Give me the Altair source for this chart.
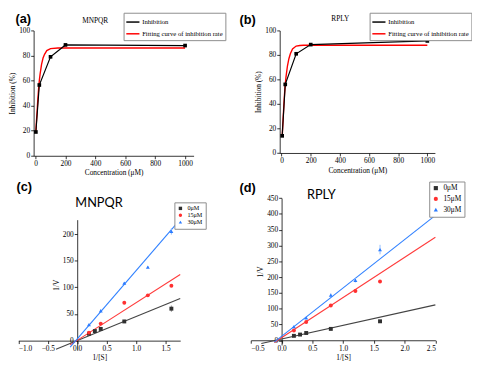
import altair as alt
import pandas as pd

# ---------------- data ----------------
# (a) MNPQR inhibition
a_conc = [2, 25, 100, 200, 1000]
a_inh = [19, 56.5, 79, 88.5, 88]
a_fit_conc = [2, 5, 10, 15, 20, 25, 30, 40, 50, 60, 75, 100, 150, 200, 1000]
a_fit_inh = [19, 26, 35, 45, 53, 60, 65, 73, 78, 81, 84, 85.6, 86, 86, 86]
# (b) RPLY inhibition
b_conc = [4, 25, 100, 200, 1000]
b_inh = [14, 56, 81, 88.5, 91.5]
b_fit_conc = [4, 10, 15, 20, 25, 30, 40, 50, 60, 75, 100, 125, 150, 200, 1000]
b_fit_inh = [13, 27, 38, 48, 56, 62, 71, 77, 81, 85, 87.3, 87.8, 88, 88, 88]

series_names = ["Inhibition", "Fitting curve of inhibition rate"]
groups = ["0μM", "15μM", "30μM"]

# (c) MNPQR Lineweaver-Burk
c_s_0 = [0.2, 0.3, 0.4, 0.8, 1.6]
c_v_0 = [13, 18, 22, 36, 60]
c_e_0 = [1, 1, 1, 3, 6]
c_s_15 = [0.2, 0.4, 0.8, 1.2, 1.6]
c_v_15 = [15, 32, 71, 85, 103]
c_e_15 = [1, 1.5, 1.5, 1.5, 2]
c_s_30 = [0.2, 0.4, 0.8, 1.2, 1.6]
c_v_30 = [30, 56, 108, 138, 205]
c_e_30 = [1.5, 2, 2, 2, 6]
c_fit_s_0 = [-0.36, 1.75]
c_fit_v_0 = [-16, 79]
c_fit_s_15 = [-0.12, 1.75]
c_fit_v_15 = [-8, 124]
c_fit_s_30 = [-0.12, 1.7]
c_fit_v_30 = [-12, 221]

# (d) RPLY Lineweaver-Burk
d_s_0 = [0.2, 0.3, 0.4, 0.8, 1.6]
d_v_0 = [14, 18, 23, 36, 60]
d_e_0 = [1, 1, 1, 2, 5]
d_s_15 = [0.2, 0.4, 0.8, 1.2, 1.6]
d_v_15 = [31, 58, 110, 156, 186]
d_e_15 = [2, 2, 2, 2, 3]
d_s_30 = [0.2, 0.4, 0.8, 1.2, 1.6]
d_v_30 = [43, 71, 143, 190, 287]
d_e_30 = [2, 3, 5, 7, 15]
d_fit_s_0 = [-0.33, 2.5]
d_fit_v_0 = [-10, 112]
d_fit_s_15 = [-0.12, 2.5]
d_fit_v_15 = [-7, 326]
d_fit_s_30 = [-0.12, 2.5]
d_fit_v_30 = [-6, 395]

conc_ticks = [0, 200, 400, 600, 800, 1000]
inh_ticks = [0, 20, 40, 60, 80, 100]
c_xticks = [-1.0, -0.5, 0.0, 0.5, 1.0, 1.5]
c_yticks = [0, 50, 100, 150, 200]
d_xticks = [-0.5, 0.0, 0.5, 1.0, 1.5, 2.0, 2.5]
d_yticks = [0, 50, 100, 150, 200, 250, 300, 350, 400, 450]

panel_tags = ["(a)", "(b)", "(c)", "(d)"]
panel_titles = ["MNPQR", "RPLY", "MNPQR", "RPLY"]

# ---------------- layout ----------------
TOTAL_W, TOTAL_H = 464, 361
SX = TOTAL_W / 480
SY = TOTAL_H / 378
CW, CH = TOTAL_W / 2, TOTAL_H / 2
SERIF = "Liberation Serif"
lb_colors = ["#303030", "#ff3030", "#2b7bff"]
lb_line_colors = ["#444444", "#ff3b3b", "#2f80ff"]
lb_err_colors = ["#9a9a9a", "#ff9a9a", "#8fbcff"]
lb_shapes = ["square", "circle", "triangle-up"]


def px(X, col):
    return X * SX - col * CW


def py(Y, row):
    return Y * SY - row * CH


def text_layer(txt, x, y, font, size, weight="normal"):
    return alt.Chart(pd.DataFrame({"t": [txt]})).mark_text(
        font=font, fontSize=size, fontWeight=weight, color="black",
        align="center", baseline="middle"
    ).encode(x=alt.value(x), y=alt.value(y), text="t:N")


def inhibition_panel(col, conc, inh, fit_conc, fit_inh, x_zero, x_ppu, x_dom,
                     y_zero, y_ppu, tag, tag_xy, title, title_xy, leg_xy):
    xr = [px(x_zero + d * x_ppu, col) for d in x_dom]
    yr = [py(y_zero + d * y_ppu, 0) for d in [0, 100]]
    xs = alt.Scale(domain=x_dom, range=xr, nice=False, zero=False)
    ys = alt.Scale(domain=[0, 100], range=yr, nice=False, zero=False)
    X = alt.X("c:Q", scale=xs, axis=alt.Axis(values=conc_ticks, title="Concentration (μM)",
                                              offset=yr[0] - CH, format="d"))
    Y = alt.Y("v:Q", scale=ys, axis=alt.Axis(values=inh_ticks, title="Inhibition (%)",
                                              offset=-xr[0], format="d"))
    color = alt.Color("s:N", scale=alt.Scale(domain=series_names, range=["black", "red"]),
                      legend=alt.Legend(orient="none", legendX=px(leg_xy[0], col),
                                        legendY=py(leg_xy[1], 0), title=None,
                                        symbolType="stroke", symbolSize=180,
                                        symbolStrokeWidth=1.5, labelFont=SERIF,
                                        labelFontSize=6.8, strokeColor="#8c8c8c",
                                        fillColor="white", padding=2, rowPadding=0,
                                        labelOffset=2))
    obs = pd.DataFrame({"c": conc, "v": inh, "s": series_names[0]})
    fit = pd.DataFrame({"c": fit_conc, "v": fit_inh, "s": series_names[1]})
    fit_line = alt.Chart(fit).mark_line(strokeWidth=1.4).encode(x=X, y=Y, color=color)
    obs_line = alt.Chart(obs).mark_line(strokeWidth=1.2).encode(x=X, y=Y, color=color)
    obs_pts = alt.Chart(obs).mark_point(shape="square", filled=True, size=14,
                                        color="black", opacity=1).encode(x=X, y=Y)
    t1 = text_layer(tag, px(tag_xy[0], col), py(tag_xy[1], 0), "Liberation Sans", 13, "bold")
    t2 = text_layer(title, px(title_xy[0], col), py(title_xy[1], 0), SERIF, 7.5)
    return alt.layer(fit_line, obs_line, obs_pts, t1, t2).properties(width=CW, height=CH)


def lb_panel(col, obs_lists, fit_lists, x_zero, x_ppu, x_dom, x_ticks,
             y_zero, y_ppu, y_dom, y_ticks, tag, tag_xy, title, title_xy,
             leg_xy, leg_font, leg_size, leg_rowpad):
    row = 1
    xr = [px(x_zero + d * x_ppu, col) for d in x_dom]
    yr = [py(y_zero + d * y_ppu, row) for d in y_dom]
    xs = alt.Scale(domain=x_dom, range=xr, nice=False, zero=False)
    ys = alt.Scale(domain=y_dom, range=yr, nice=False, zero=False)
    xaxis = alt.Axis(values=x_ticks, title="1/[S]", format=".1f",
                     offset=py(y_zero, row) - CH)
    yaxis = alt.Axis(values=y_ticks, title="1/V", format="d", offset=-px(x_zero, col))
    X = alt.X("s:Q", scale=xs, axis=xaxis)
    Y = alt.Y("v:Q", scale=ys, axis=yaxis)
    layers = []
    frames = []
    for i, (g, (s, v), (so, vo, e)) in enumerate(zip(groups, fit_lists, obs_lists)):
        fit = pd.DataFrame({"s": s, "v": v})
        layers.append(alt.Chart(fit).mark_line(strokeWidth=1.1, color=lb_line_colors[i])
                      .encode(x=X, y=Y))
        o = pd.DataFrame({"s": so, "v": vo, "e": e, "g": g})
        o["lo"] = o["v"] - o["e"]
        o["hi"] = o["v"] + o["e"]
        layers.append(alt.Chart(o).mark_rule(strokeWidth=1, color=lb_err_colors[i])
                      .encode(x=X, y=alt.Y("lo:Q", scale=ys, axis=yaxis), y2="hi:Q"))
        frames.append(o)
    obs = pd.concat(frames, ignore_index=True)
    legend = alt.Legend(orient="none", legendX=px(leg_xy[0], col),
                        legendY=py(leg_xy[1], row), title=None,
                        labelFont=SERIF, labelFontSize=leg_font,
                        symbolSize=leg_size, strokeColor="#8c8c8c",
                        fillColor="white", padding=3,
                        rowPadding=leg_rowpad, labelOffset=4)
    pts = alt.Chart(obs).mark_point(filled=True, size=16, opacity=1).encode(
        x=X, y=Y,
        color=alt.Color("g:N", scale=alt.Scale(domain=groups, range=lb_colors), legend=legend),
        shape=alt.Shape("g:N", scale=alt.Scale(domain=groups, range=lb_shapes), legend=legend))
    layers.append(pts)
    layers.append(text_layer(tag, px(tag_xy[0], col), py(tag_xy[1], row),
                             "Liberation Sans", 13, "bold"))
    layers.append(text_layer(title, px(title_xy[0], col), py(title_xy[1], row), "Lato", 13))
    return alt.layer(*layers).properties(width=CW, height=CH)


pa = inhibition_panel(0, a_conc, a_inh, a_fit_conc, a_fit_inh, 25, 0.158, [-13, 1057],
                      154, -1.34, panel_tags[0], (12, 8), panel_titles[0], (88, 10), (118, 1))
pb = inhibition_panel(1, b_conc, b_inh, b_fit_conc, b_fit_inh, 285, 0.154, [-13, 1052],
                      151, -1.31, panel_tags[1], (249, 9), panel_titles[1], (347, 8), (378, 1))
pc = lb_panel(0, [(c_s_0, c_v_0, c_e_0), (c_s_15, c_v_15, c_e_15), (c_s_30, c_v_30, c_e_30)],
              [(c_fit_s_0, c_fit_v_0), (c_fit_s_15, c_fit_v_15), (c_fit_s_30, c_fit_v_30)],
              69, 62.2, [-1.0, 1.75], c_xticks, 351.2, -0.57, [-17, 227], c_yticks,
              panel_tags[2], (13, 187), panel_titles[2], (92, 204), (171.7, 203.3), 6.3, 12, 0)
pd_ = lb_panel(1, [(d_s_0, d_v_0, d_e_0), (d_s_15, d_v_15, d_e_15), (d_s_30, d_v_30, d_e_30)],
               [(d_fit_s_0, d_fit_v_0), (d_fit_s_15, d_fit_v_15), (d_fit_s_30, d_fit_v_30)],
               285, 65, [-0.5, 2.5], d_xticks, 350.8, -0.338, [-15, 450], d_yticks,
               panel_tags[3], (249, 188), panel_titles[3], (327, 195), (441, 181), 7.5, 18, 2)

chart = alt.concat(pa, pb, pc, pd_, columns=2, spacing=0, bounds="flush").resolve_scale(
    x="independent", y="independent", color="independent", shape="independent"
).resolve_legend(color="independent", shape="independent").properties(
    padding=0
).configure_view(strokeWidth=0).configure_axis(
    grid=False, domainColor="black", tickColor="black", labelColor="black",
    titleColor="black", labelFont=SERIF, labelFontSize=7.5, titleFont=SERIF,
    titleFontSize=7.5, titleFontWeight="normal", tickSize=3, labelPadding=1,
    titlePadding=2, domainWidth=0.8, tickWidth=0.8
)

chart.save("out.html", embed_options={"renderer": "svg", "actions": False})
